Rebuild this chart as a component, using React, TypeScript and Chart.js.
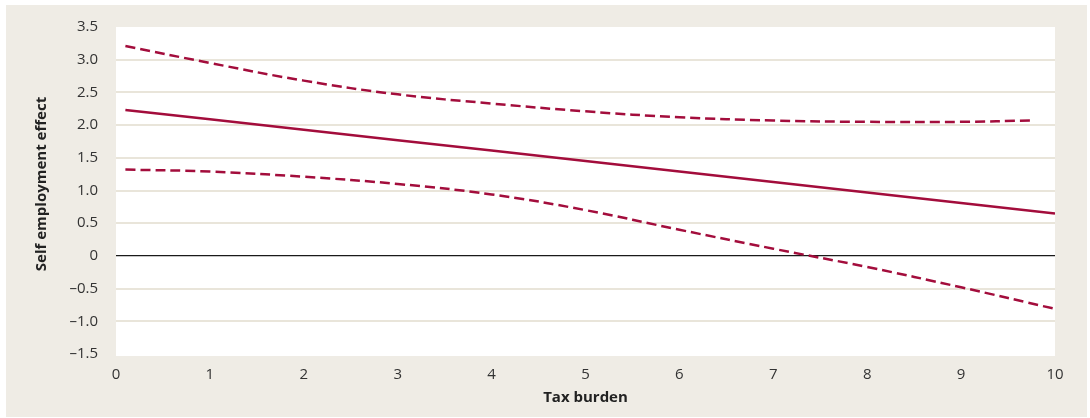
import React, { useEffect, useRef } from "react";
import { Chart, registerables } from "chart.js";

Chart.register(...registerables);

const xCentral = [0.1, 1, 2, 3, 4, 5, 6, 7, 8, 9, 10];
const yCentral = [2.23, 2.09, 1.93, 1.77, 1.61, 1.45, 1.29, 1.13, 0.97, 0.81, 0.65];

const xUpper = [0.1, 1, 2, 3, 4, 5, 6, 7, 8, 9, 9.75];
const yUpper = [3.21, 2.95, 2.68, 2.47, 2.33, 2.21, 2.12, 2.07, 2.05, 2.05, 2.07];

const xLower = [0.1, 1, 2, 3, 4, 5, 6, 7, 8, 9, 10];
const yLower = [1.32, 1.29, 1.21, 1.1, 0.94, 0.7, 0.4, 0.11, -0.17, -0.48, -0.81];

const yTickValues = [3.5, 3.0, 2.5, 2.0, 1.5, 1.0, 0.5, 0, -0.5, -1.0, -1.5];
const xTickValues = [0, 1, 2, 3, 4, 5, 6, 7, 8, 9, 10];

const X_TITLE = "Tax burden";
const Y_TITLE = "Self employment effect";

const LINE = "#A30D3C";
const BEIGE = "#EFECE5";

function pts(xs: number[], ys: number[]) {
  return xs.map((x, i) => ({ x, y: ys[i] }));
}

function fmtY(v: number) {
  if (v === 0) return "0";
  const s = Math.abs(v).toFixed(1);
  return v < 0 ? "\u2013" + s : s;
}

const plotBg = {
  id: "plotBg",
  beforeDraw(chart: any) {
    const { ctx, chartArea } = chart;
    ctx.save();
    ctx.fillStyle = "#ffffff";
    ctx.fillRect(chartArea.left, chartArea.top, chartArea.right - chartArea.left, chartArea.bottom - chartArea.top + 2);
    ctx.restore();
  },
};

const yTitlePlugin = {
  id: "yTitlePlugin",
  afterDraw(chart: any) {
    const { ctx } = chart;
    ctx.save();
    ctx.translate(36, 179);
    ctx.rotate(-Math.PI / 2);
    ctx.font = "bold 15px 'Open Sans'";
    ctx.fillStyle = "#222222";
    ctx.textAlign = "center";
    ctx.textBaseline = "middle";
    ctx.fillText(Y_TITLE, 0, 0);
    ctx.restore();
  },
};

export default function App() {
  const ref = useRef<HTMLCanvasElement | null>(null);
  useEffect(() => {
    if (!ref.current) return;
    const chart = new Chart(ref.current, {
      type: "line",
      data: {
        datasets: [
          {
            data: pts(xUpper, yUpper),
            borderColor: LINE,
            borderWidth: 2.5,
            borderDash: [10, 5],
            pointRadius: 0,
            tension: 0.4,
            fill: false,
          },
          {
            data: pts(xCentral, yCentral),
            borderColor: LINE,
            borderWidth: 2.5,
            pointRadius: 0,
            tension: 0,
            fill: false,
          },
          {
            data: pts(xLower, yLower),
            borderColor: LINE,
            borderWidth: 2.5,
            borderDash: [10, 5],
            pointRadius: 0,
            tension: 0.4,
            fill: false,
          },
        ],
      },
      options: {
        animation: false,
        responsive: false,
        maintainAspectRatio: false,
        layout: { padding: { top: 22, right: 32, left: 0, bottom: 0 } },
        plugins: { legend: { display: false }, tooltip: { enabled: false } },
        scales: {
          x: {
            type: "linear",
            min: 0,
            max: 10,
            afterFit(scale: any) {
              scale.height = 63;
            },
            afterBuildTicks(scale: any) {
              scale.ticks = xTickValues.map((v) => ({ value: v }));
            },
            grid: { display: false, drawTicks: false },
            border: { display: false },
            ticks: {
              padding: 12,
              color: "#333333",
              font: { family: "Open Sans", size: 15 },
              callback: (v: any) => String(v),
            },
            title: {
              display: true,
              text: X_TITLE,
              color: "#222222",
              font: { family: "Open Sans", size: 15, weight: "bold" },
              padding: { top: 0, bottom: 10 },
            },
          },
          y: {
            type: "linear",
            min: -1.5,
            max: 3.5,
            afterFit(scale: any) {
              scale.width = 110;
              scale.paddingTop = 8;
              scale.paddingBottom = 8;
            },
            afterBuildTicks(scale: any) {
              scale.ticks = yTickValues.map((v) => ({ value: v }));
            },
            grid: {
              drawTicks: false,
              color: (c: any) => {
                const v = c.tick ? c.tick.value : null;
                if (v === 0) return "#1a1a1a";
                if (v === 3.5 || v === -1.5) return "rgba(0,0,0,0)";
                return "#E9E5DA";
              },
              lineWidth: (c: any) => (c.tick && c.tick.value === 0 ? 1.3 : 2),
            },
            border: { display: false },
            ticks: {
              padding: 18,
              color: "#333333",
              font: { family: "Open Sans", size: 15 },
              callback: (v: any) => fmtY(Number(v)),
            },
            title: { display: false },
          },
        },
      },
      plugins: [plotBg, yTitlePlugin],
    });
    return () => chart.destroy();
  }, []);

  return (
    <div style={{ position: "fixed", left: 0, top: 0, width: 1090, height: 418, background: "#ffffff" }}>
      <div style={{ position: "absolute", left: 6, top: 5, width: 1081, height: 412, background: BEIGE }}>
        <canvas ref={ref} width={1081} height={412} style={{ display: "block", width: 1081, height: 412 }} />
      </div>
    </div>
  );
}
